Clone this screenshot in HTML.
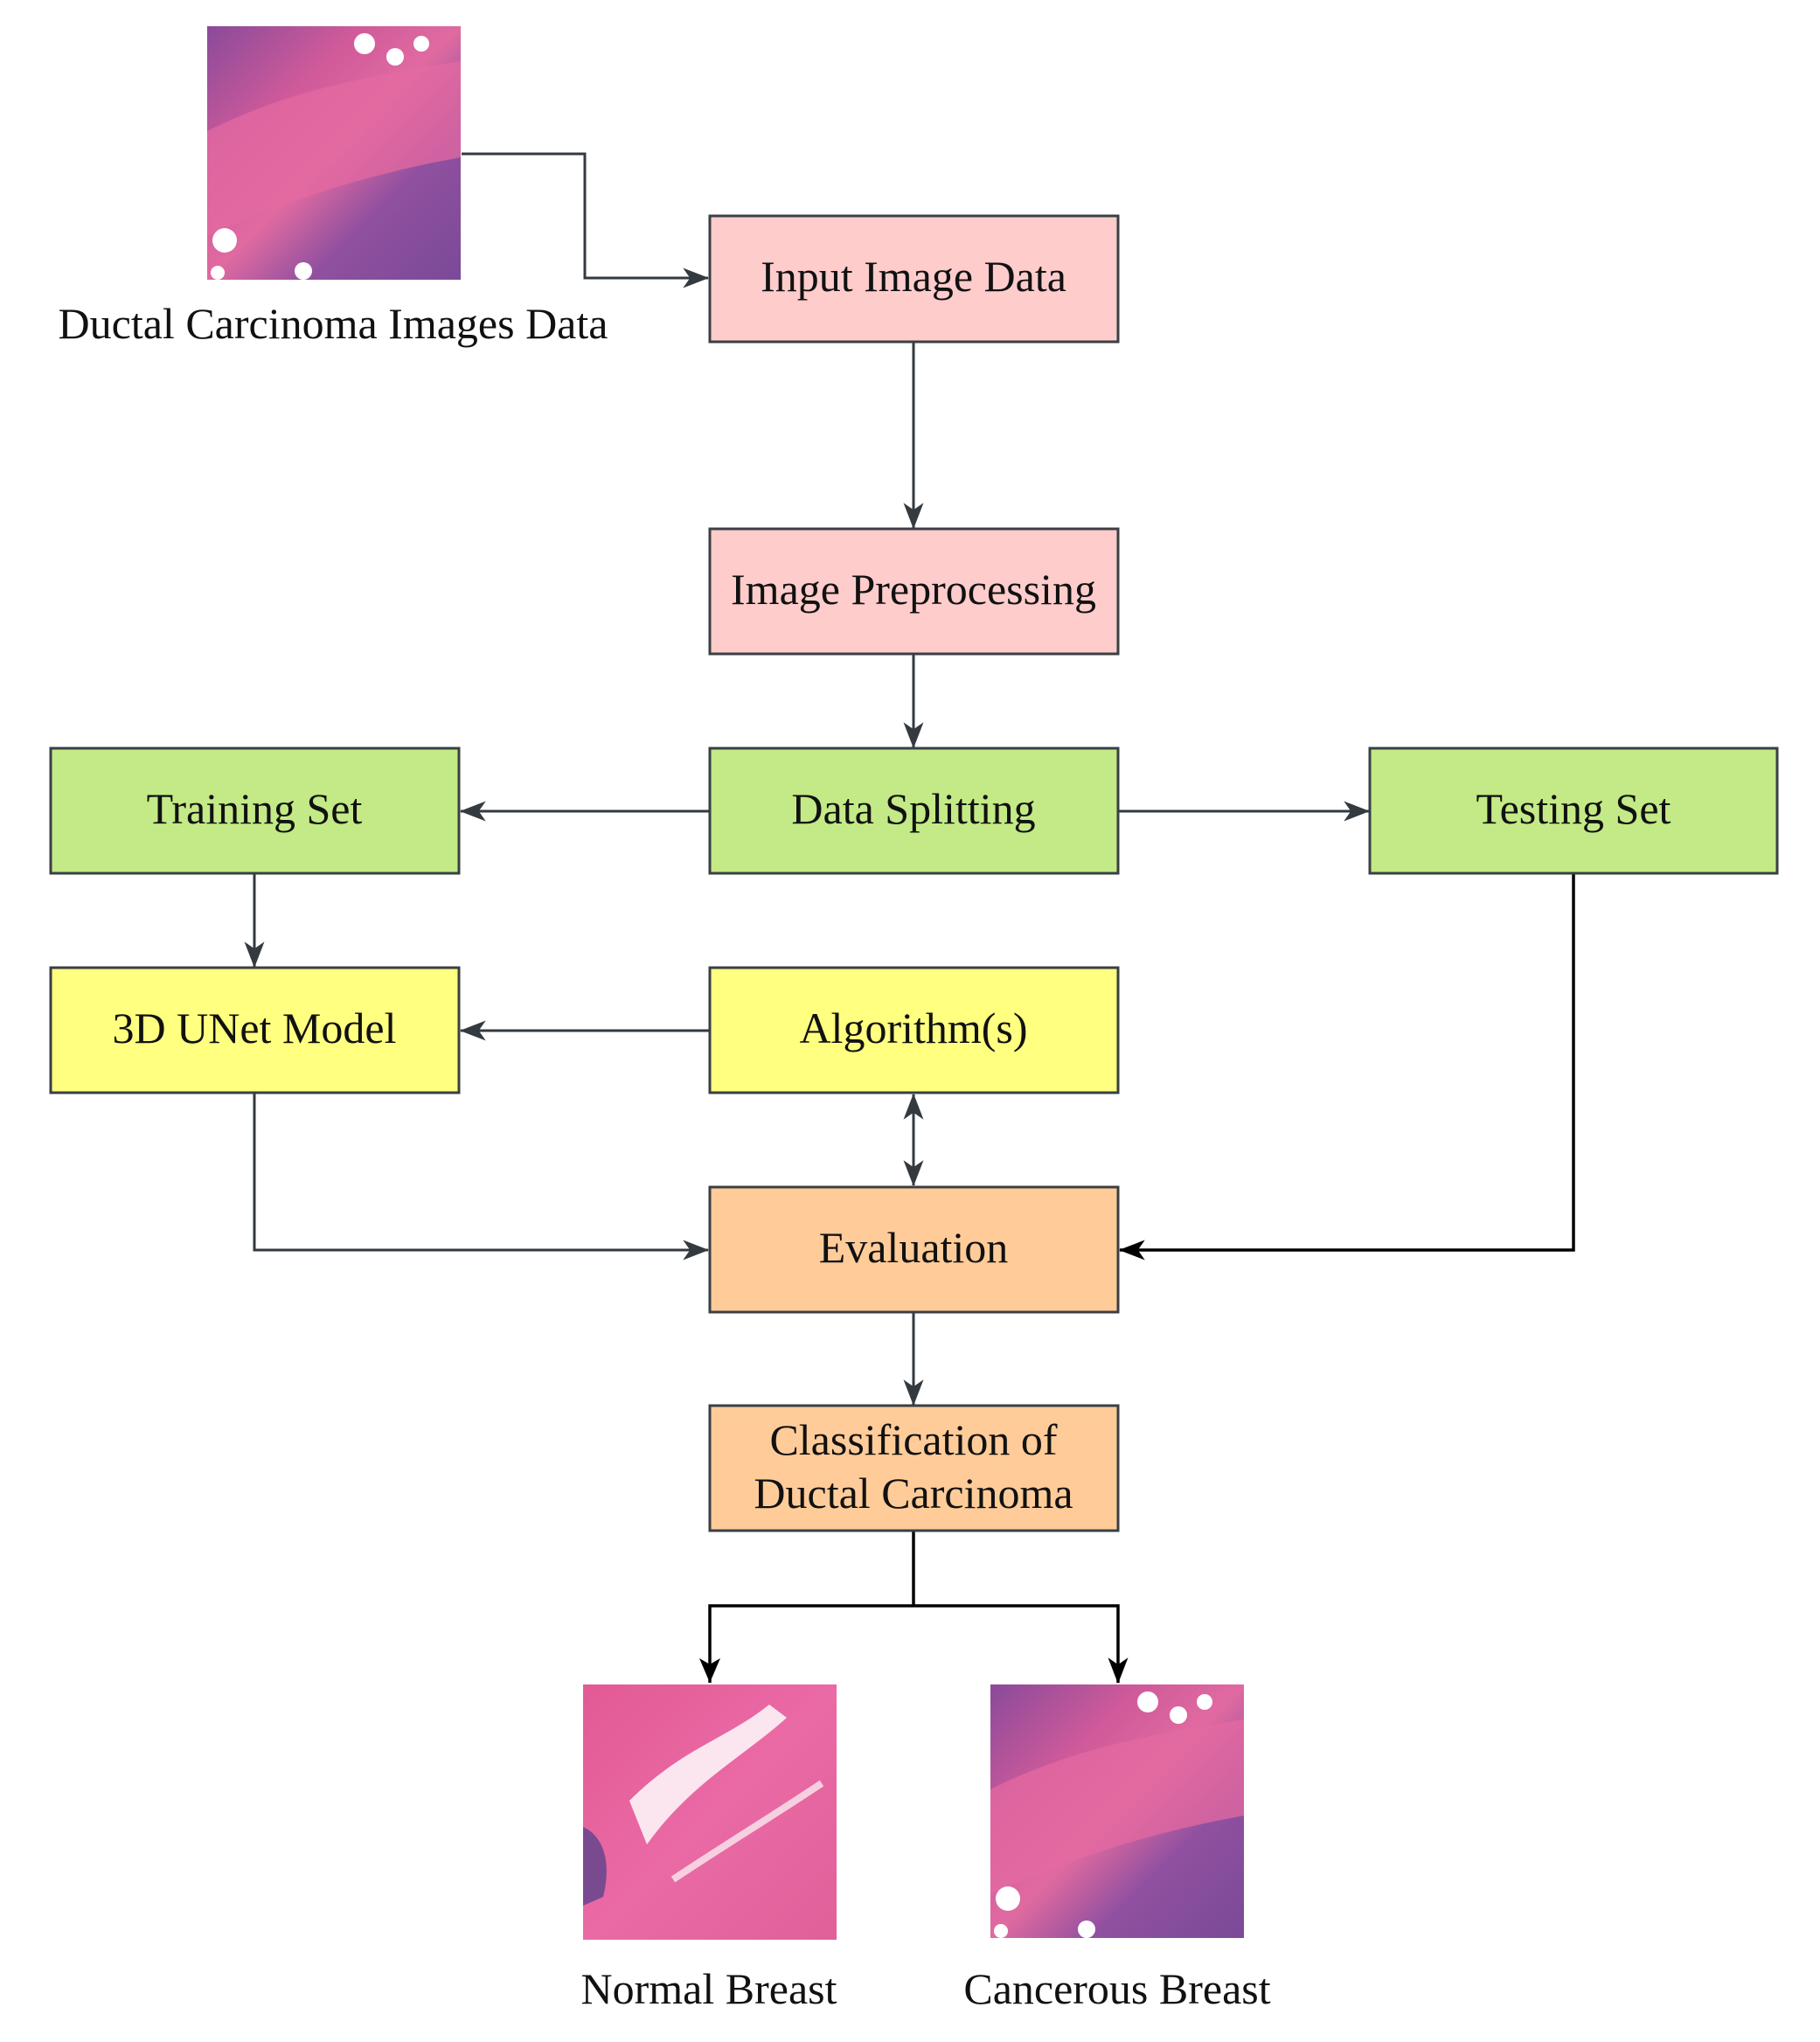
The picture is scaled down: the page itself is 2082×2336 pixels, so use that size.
<!DOCTYPE html>
<html><head><meta charset="utf-8"><style>
html,body{margin:0;padding:0;background:#fff;}
body{width:2082px;height:2331px;position:relative;overflow:hidden;font-family:"Liberation Serif",serif;}
</style></head><body>
<svg width="2082" height="2331" viewBox="0 0 2082 2331" xmlns="http://www.w3.org/2000/svg">
<defs>
<marker id="a" viewBox="0 0 26 20" refX="25" refY="10" markerWidth="30" markerHeight="23" markerUnits="userSpaceOnUse" orient="auto-start-reverse">
<path d="M0,0 L26,10 L0,20 L7,10 Z" fill="#333a40"/></marker>
<marker id="k" viewBox="0 0 26 20" refX="25" refY="10" markerWidth="30" markerHeight="23" markerUnits="userSpaceOnUse" orient="auto">
<path d="M0,0 L26,10 L0,20 L7,10 Z" fill="#000"/></marker>
<linearGradient id="cg" x1="0" y1="0" x2="1" y2="1">
<stop offset="0" stop-color="#8a4a9a"/><stop offset="0.3" stop-color="#d05a9a"/><stop offset="0.5" stop-color="#e06aa0"/><stop offset="0.7" stop-color="#9050a0"/><stop offset="1" stop-color="#7a4a98"/></linearGradient>
<linearGradient id="ng" x1="0" y1="0" x2="1" y2="1">
<stop offset="0" stop-color="#e25a95"/><stop offset="0.5" stop-color="#ea6aa5"/><stop offset="1" stop-color="#e0609a"/></linearGradient>
<g id="canc">
<rect width="290" height="290" fill="url(#cg)"/>
<path d="M0,120 C80,80 160,60 290,40 L290,150 C180,170 90,200 0,240Z" fill="#e46aa2" opacity="0.75"/>
<circle cx="180" cy="20" r="12" fill="#fff"/><circle cx="215" cy="35" r="10" fill="#fff"/><circle cx="245" cy="20" r="9" fill="#fff"/>
<circle cx="20" cy="245" r="14" fill="#fff"/><circle cx="110" cy="280" r="10" fill="#fff"/><circle cx="12" cy="282" r="8" fill="#fff"/>
</g>
</defs>
<g font-size="50" text-anchor="middle" fill="#111">
<use href="#canc" x="237" y="30"/>
<text x="381" y="387">Ductal Carcinoma Images Data</text>

<g stroke="#333a40" stroke-width="3" fill="none">
<polyline points="528,176 669,176 669,318 810,318" marker-end="url(#a)"/>
<line x1="1045" y1="391" x2="1045" y2="604" marker-end="url(#a)"/>
<line x1="1045" y1="748" x2="1045" y2="855" marker-end="url(#a)"/>
<line x1="812" y1="928" x2="527" y2="928" marker-end="url(#a)"/>
<line x1="1279" y1="928" x2="1566" y2="928" marker-end="url(#a)"/>
<line x1="291" y1="999" x2="291" y2="1106" marker-end="url(#a)"/>
<line x1="812" y1="1179" x2="527" y2="1179" marker-end="url(#a)"/>
<line x1="1045" y1="1252" x2="1045" y2="1356" marker-start="url(#a)" marker-end="url(#a)"/>
<polyline points="291,1250 291,1430 810,1430" marker-end="url(#a)"/>
<line x1="1045" y1="1501" x2="1045" y2="1607" marker-end="url(#a)"/>
</g>
<polyline points="1800,999 1800,1430 1281,1430" stroke="#000" stroke-width="3.5" fill="none" marker-end="url(#k)"/>
<polyline points="812,1925 812,1837 1279,1837 1279,1925" stroke="#000" stroke-width="3.5" fill="none" marker-end="url(#k)"/>
<line x1="1045" y1="1751" x2="1045" y2="1837" stroke="#000" stroke-width="3.5"/>
<path d="M800,1897 L812,1925 L824,1897 L812,1904Z" fill="#000"/>

<g stroke="#3a3f44" stroke-width="3">
<rect x="812" y="247" width="467" height="144" fill="#ffcccc"/>
<rect x="812" y="605" width="467" height="143" fill="#ffcccc"/>
<rect x="58" y="856" width="467" height="143" fill="#c3ea86"/>
<rect x="812" y="856" width="467" height="143" fill="#c3ea86"/>
<rect x="1567" y="856" width="466" height="143" fill="#c3ea86"/>
<rect x="58" y="1107" width="467" height="143" fill="#ffff80"/>
<rect x="812" y="1107" width="467" height="143" fill="#ffff80"/>
<rect x="812" y="1358" width="467" height="143" fill="#ffcc99"/>
<rect x="812" y="1608" width="467" height="143" fill="#ffcc99"/>
</g>
<text x="1045" y="333">Input Image Data</text>
<text x="1045" y="691">Image Preprocessing</text>
<text x="291" y="942">Training Set</text>
<text x="1045" y="942">Data Splitting</text>
<text x="1800" y="942">Testing Set</text>
<text x="291" y="1193">3D UNet Model</text>
<text x="1045" y="1193">Algorithm(s)</text>
<text x="1045" y="1444">Evaluation</text>
<text x="1045" y="1664">Classification of</text>
<text x="1045" y="1725">Ductal Carcinoma</text>

<rect x="667" y="1927" width="290" height="292" fill="url(#ng)"/>
<path d="M720,2060 C780,2000 830,1990 880,1950 L900,1965 C850,2010 790,2040 740,2110Z" fill="#fbe6ef"/>
<path d="M667,2090 C690,2100 700,2130 690,2170 L667,2180Z" fill="#7a4a90"/>
<path d="M770,2150 C830,2110 880,2080 940,2040" stroke="#f6d0e0" stroke-width="8" fill="none"/>
<use href="#canc" x="1133" y="1927"/>
<text x="811" y="2292">Normal Breast</text>
<text x="1278" y="2292">Cancerous Breast</text>
</g>
</svg>
</body></html>
